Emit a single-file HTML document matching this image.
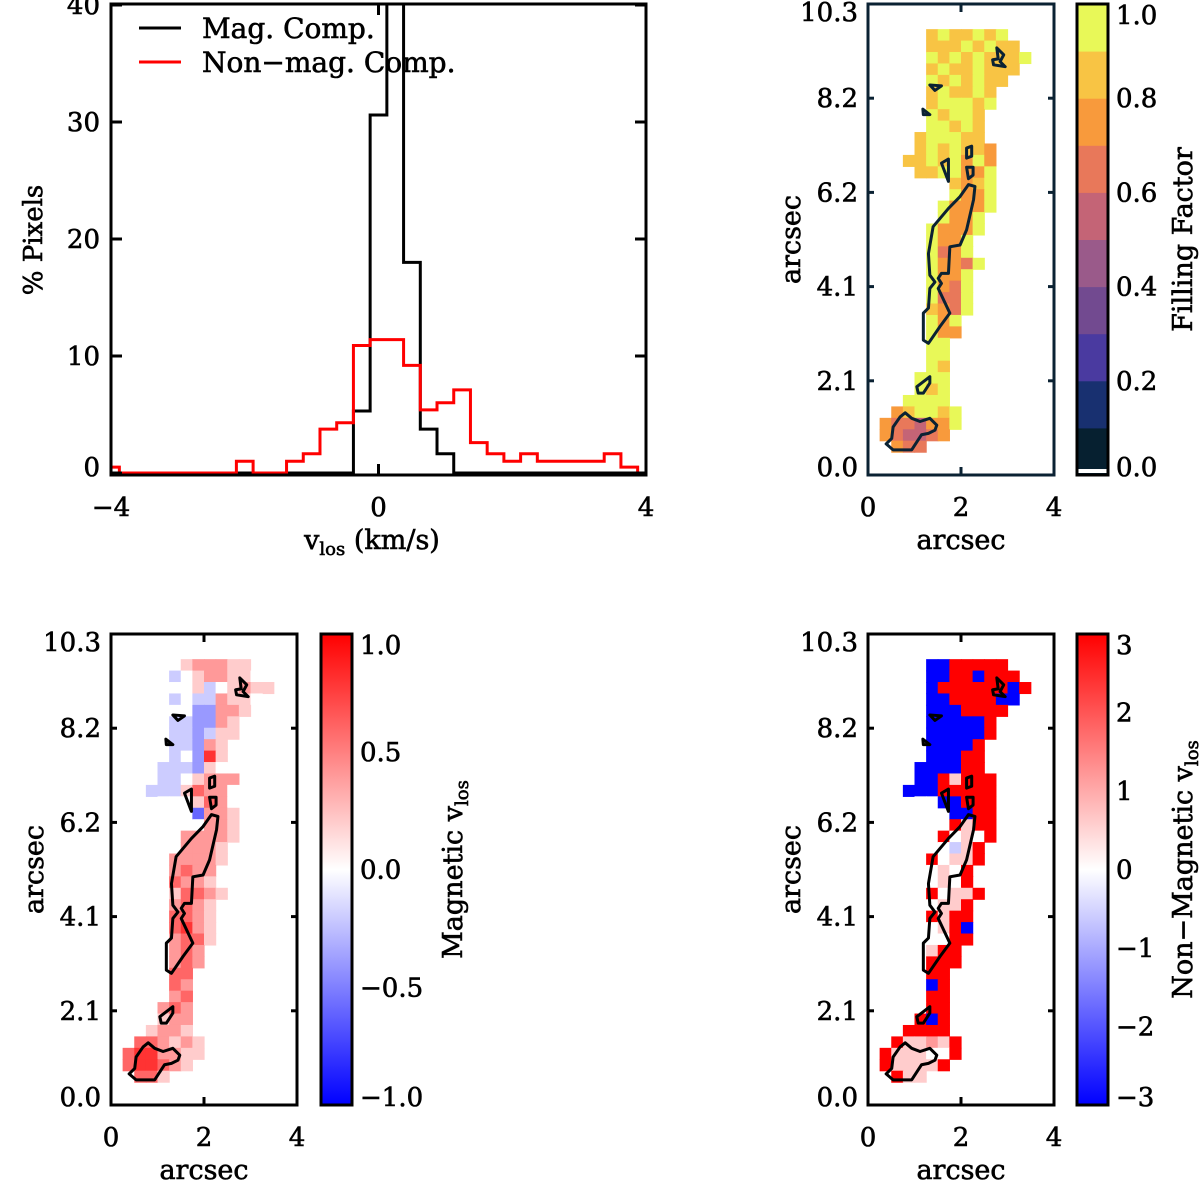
<!DOCTYPE html>
<html><head><meta charset="utf-8"><style>
html,body{margin:0;padding:0;background:#fff;}
svg{display:block;}
text{font-family:"DejaVu Serif","Liberation Serif",serif;fill:#000;stroke:#000;stroke-width:0.6px;}
</style></head><body>
<svg id="fig" width="1200" height="1183" viewBox="0 0 1200 1183" xmlns="http://www.w3.org/2000/svg">
<defs>
<clipPath id="histclip"><rect x="111" y="4" width="535" height="471"/></clipPath>
<linearGradient id="gradbwr" x1="0" y1="1" x2="0" y2="0">
<stop offset="0" stop-color="#0000ff"/><stop offset="0.5" stop-color="#ffffff"/><stop offset="1" stop-color="#ff0000"/>
</linearGradient>
</defs>
</svg>
<script>
// ---------- histogram data ----------
const binCenters = [-4,-3.75,-3.5,-3.25,-3,-2.75,-2.5,-2.25,-2,-1.75,-1.5,-1.25,-1,-0.75,-0.5,-0.25,0,0.25,0.5,0.75,1,1.25,1.5,1.75,2,2.25,2.5,2.75,3,3.25,3.5,3.75,4];
const magPct    = [0,0,0,0,0,0,0,0,0,0,0,0,0,0,0,5.3,30.6,41,18.0,3.75,1.65,0,0,0,0,0,0,0,0,0,0,0,0];
const nonmagPct = [0.5,0,0,0,0,0,0,0,1.0,0,0,1.0,1.65,3.75,4.3,10.9,11.4,11.4,9.2,5.4,6.0,7.1,2.6,1.65,1.0,1.65,1.0,1.0,1.0,1.0,1.65,0.5,0];
const histYTicks = [0,10,20,30,40];
const histXTicks = [-4,0,4];
const binWidth = 0.25;

// ---------- map data (cells of 0.25 arcsec; col 0 starts x=0.25, row 0 top at y=9.75) ----------
const ffRows = [
"....8988989..","....88898988.","....989898889","....89889888.","....9898988..","....898898...","....899989...","....98998....","....99898....","...899988....","...8989887...","..88989797...","...8899779...","......8789...","......9779...",".....97779...",".....9779....","....97779....","....9779.....","....9679.....","....97769....","....9779.....","....9769.....","....9669.....","....8769.....","....979......","....977......","....99.......","....99.......","....98.......","...999.......","...989.......","..9999.......",".789989......","7665779......","765567.......",".766........."];
const magRows = [
"....5677766..","....45677665.","....556456766","....45447665.","....5533776..","....443376...","....443466...","....44376....","....45396....","...444365....","...4456777...","..44468775...","...5556875...","......2776...","......5776...",".....77776...",".....7776....","....77776....","....7877.....","....8776.....","....68876....","....7876.....","....8876.....","....8976.....","....7886.....","....787......","....787......","....88.......","....87.......","....78.......","...787.......","...677.......","..6776.......",".887676......","8997766......","899876.......",".886........."];
const nonmagRows = [
"....00XXXXX..","....00XX0XXX.","....0XXXXXX0X","....00XXXX00.","....000XXXX..","....00000X...","....00000X...","....0000X....","....000XX....","...0000XX....","...00X6XXX...","..000XXXXX...","...5500XXX...","......00XX...","......X6XX...",".....X565X...",".....546X....","....X566X....","....565X.....","....565X.....","....X566X....","....566X.....","....X6XX.....","....56X0.....","....55XX.....","....6XX......","....XXX......","....XX.......","....0X.......","....XX.......","...5XX.......","...X0X.......","..XXXX.......",".X6676X......","X66655X......","X6666X.......",".X66........."];
const cellSize = 0.25, gridX0 = 0.25, gridYTop = 9.75;
const ffBands = ['#062030','#183070','#4a3aa0','#724a90','#9a5a8a','#c46476','#e8785a','#f89a3c','#f8c444','#e8f858'];

// contours (arcsec)
const contourStem = [[2.16,6.35],[2.30,6.31],[2.27,6.02],[2.12,5.36],[1.98,5.03],[1.76,4.99],[1.73,4.41],[1.58,4.41],[1.51,4.30],[1.58,4.19],[1.51,4.08],[1.76,3.54],[1.55,3.25],[1.30,2.88],[1.19,2.95],[1.19,3.54],[1.30,3.65],[1.33,4.08],[1.44,4.22],[1.33,4.37],[1.30,4.84],[1.40,5.43],[1.73,5.83],[1.98,6.09]];
const contourBlob = [[0.80,1.36],[0.94,1.24],[1.12,1.17],[1.33,1.24],[1.48,1.09],[1.44,0.98],[1.30,0.91],[1.15,0.88],[0.94,0.55],[0.54,0.55],[0.39,0.68],[0.51,0.80],[0.54,1.05],[0.69,1.27]];
const contourSmall1 = [[1.05,1.93],[1.33,2.15],[1.33,2.01],[1.19,1.79],[1.08,1.79]];
const contourHook = [[2.77,9.34],[2.92,9.19],[2.84,9.04],[2.95,8.93],[2.70,8.97],[2.68,9.08],[2.80,9.10]];
const contourTri = [[1.33,8.53],[1.58,8.51],[1.44,8.41]];
const contourDot = [[1.18,8.00],[1.33,7.88],[1.19,7.88]];
const contourWedge = [[1.58,6.82],[1.73,6.91],[1.73,6.42]];
const contourBox1 = [[2.12,7.15],[2.23,7.19],[2.23,6.97],[2.12,6.93]];
const contourBox2 = [[2.12,6.73],[2.26,6.73],[2.26,6.56],[2.16,6.48]];
const mapYTicks = [0,2.06,4.12,6.18,8.24,10.3];
const mapYTickLabels = ['0.0','2.1','4.1','6.2','8.2','10.3'];
const mapXTicks = [0,2,4];
const ffBarTicks = [0,0.2,0.4,0.6,0.8,1.0];
const magBarTicks = [-1,-0.5,0,0.5,1];
const magBarLabels = ['\u22121.0','\u22120.5','0.0','0.5','1.0'];
const nonmagBarTicks = [-3,-2,-1,0,1,2,3];
const nonmagBarLabels = ['\u22123','\u22122','\u22121','0','1','2','3'];

const NS = 'http://www.w3.org/2000/svg';
const svg = document.getElementById('fig');
function mk(tag, attrs, parent){
  const e = document.createElementNS(NS, tag);
  for (const k in attrs) e.setAttribute(k, attrs[k]);
  (parent||svg).appendChild(e);
  return e;
}
function txt(s, x, y, size, anchor, parent, rot){
  const t = mk('text', {x:x, y:y, 'font-size':size, 'text-anchor':anchor||'middle'}, parent);
  if (rot) t.setAttribute('transform', 'rotate(-90 '+x+' '+y+')');
  t.textContent = s;
  return t;
}

// ---------- histogram ----------
const hx = v => 111 + (v + 4) * 535 / 8;
const hy = v => 473 - v * 11.7;
const histG = mk('g', {});


function stepPath(vals){
  let d = '';
  binCenters.forEach((c, i) => {
    const x0 = hx(c - binWidth/2), x1 = hx(c + binWidth/2), y = hy(vals[i]);
    d += (i === 0 ? 'M' + x0 + ',' + y : 'L' + x0 + ',' + y) + 'L' + x1 + ',' + y;
  });
  return d;
}
const magLine = mk('path', {d: stepPath(magPct), fill:'none', stroke:'#000', 'stroke-width':3, 'clip-path':'url(#histclip)'}, histG);


const nonLine = mk('path', {d: stepPath(nonmagPct), fill:'none', stroke:'#ff0000', 'stroke-width':3, 'clip-path':'url(#histclip)'}, histG);


const hbox = mk('rect', {x:111, y:4, width:535, height:471, fill:'none', stroke:'#000', 'stroke-width':3}, histG);


histYTicks.forEach(v => {
  const y = hy(v);
  mk('line', {x1:111, x2:122, y1:y, y2:y, stroke:'#000', 'stroke-width':3}, histG);
  mk('line', {x1:635, x2:646, y1:y, y2:y, stroke:'#000', 'stroke-width':3}, histG);
  const t = txt(String(v), 100, Math.min(y + 9, 476), 26, 'end', histG);
  
  
});
histXTicks.forEach(v => {
  const x = hx(v);
  mk('line', {x1:x, x2:x, y1:475, y2:464, stroke:'#000', 'stroke-width':3}, histG);
  mk('line', {x1:x, x2:x, y1:4, y2:15, stroke:'#000', 'stroke-width':3}, histG);
  const t = txt(v < 0 ? '\u2212' + Math.abs(v) : String(v), x, 516, 26, 'middle', histG);
  
  
});
const hyt = txt('% Pixels', 42, 240, 26, 'middle', histG, true);


const hxt = mk('text', {x:372, y:549, 'font-size':27, 'text-anchor':'middle'}, histG);


hxt.innerHTML = 'v<tspan font-size="18" dy="6">los</tspan><tspan dy="-6"> (km/s)</tspan>';
const leg = mk('g', {}, histG);


const l1 = mk('line', {x1:139, x2:181, y1:28, y2:28, stroke:'#000', 'stroke-width':3}, leg);


txt('Mag. Comp.', 202, 38, 28, 'start', leg);
const l2 = mk('line', {x1:139, x2:181, y1:62, y2:62, stroke:'#ff0000', 'stroke-width':3}, leg);


txt('Non\u2212mag. Comp.', 202, 72, 28, 'start', leg);

// ---------- maps ----------
function bwr(v){ // v in [-1,1]
  v = Math.max(-1, Math.min(1, v));
  if (v < 0){ const c = Math.round(255 * (1 + v)); return 'rgb(' + c + ',' + c + ',255)'; }
  const c = Math.round(255 * (1 - v)); return 'rgb(255,' + c + ',' + c + ')';
}
function decode(ch){ return ch === 'X' ? 10 : parseInt(ch, 10); }
function drawMap(opts){
  const {x0, y0, w, h, rows, colorFn, name, cstroke, bar, barTicks, barLabels, barTitle, titleSub} = opts;
  const sx = v => x0 + v * w / 4;
  const sy = v => y0 + h - v * h / 10.3;
  const g = mk('g', {});
  
  
  rows.forEach((row, r) => {
    for (let c = 0; c < row.length; c++){
      const ch = row[c];
      if (ch === '.') continue;
      const xa = gridX0 + c * cellSize, ya = gridYTop - r * cellSize;
      const cell = mk('rect', {x: sx(xa), y: sy(ya), width: sx(xa + cellSize) - sx(xa) + 0.6, height: sy(ya - cellSize) - sy(ya) + 0.6, fill: colorFn(decode(ch))}, g);
      
      
    }
  });
  [contourStem, contourBlob, contourSmall1, contourHook, contourTri, contourDot, contourWedge, contourBox1, contourBox2].forEach(poly => {
    const pts = poly.map(p => sx(p[0]) + ',' + sy(p[1])).join(' ');
    const pg = mk('polygon', {points: pts, fill:'none', stroke: cstroke, 'stroke-width':3, 'stroke-linejoin':'round'}, g);
    
    
  });
  const box = mk('rect', {x:x0, y:y0, width:w, height:h, fill:'none', stroke:cstroke, 'stroke-width':3}, g);
  
  
  mapYTicks.forEach((v, i) => {
    const y = sy(v);
    mk('line', {x1:x0, x2:x0 + 6, y1:y, y2:y, stroke:cstroke, 'stroke-width':3}, g);
    mk('line', {x1:x0 + w - 6, x2:x0 + w, y1:y, y2:y, stroke:cstroke, 'stroke-width':3}, g);
    const t = txt(mapYTickLabels[i], x0 - 10, Math.max(Math.min(y + 9, y0 + h + 1), y0 + 17), 26, 'end', g);
    t.setAttribute('fill', cstroke);
    t.setAttribute('stroke', cstroke);
    
    
  });
  mapXTicks.forEach(v => {
    const x = sx(v);
    mk('line', {x1:x, x2:x, y1:y0 + h, y2:y0 + h - 8, stroke:cstroke, 'stroke-width':3}, g);
    mk('line', {x1:x, x2:x, y1:y0, y2:y0 + 8, stroke:cstroke, 'stroke-width':3}, g);
    const t = txt(String(v), x, y0 + h + 41, 26, 'middle', g);
    t.setAttribute('fill', cstroke);
    t.setAttribute('stroke', cstroke);
    
    
  });
  const xt = txt('arcsec', x0 + w / 2, y0 + h + 74, 27, 'middle', g);
  xt.setAttribute('fill', cstroke);
  xt.setAttribute('stroke', cstroke);
  
  
  const yt = txt('arcsec', x0 - 68, y0 + h / 2, 27, 'middle', g, true);
  yt.setAttribute('fill', cstroke);
  yt.setAttribute('stroke', cstroke);
  
  
  // colorbar
  const bx = bar.x, bw = bar.w;
  const cb = mk('g', {}, g);
  
  
  bar.draw(cb, bx, y0, bw, h);
  mk('rect', {x:bx, y:y0, width:bw, height:h, fill:'none', stroke:'#000', 'stroke-width':3}, cb);
  const bmin = barTicks[0], bmax = barTicks[barTicks.length - 1];
  barTicks.forEach((v, i) => {
    const y = y0 + h - (v - bmin) / (bmax - bmin) * h;
    const t = txt(barLabels[i], bx + bw + 8, Math.max(Math.min(y + 9, y0 + h + 1), y0 + 20), 26, 'start', cb);
    
    
  });
  const ct = mk('text', {x: bar.titleX, y: y0 + h / 2, 'font-size':27, 'text-anchor':'middle', transform:'rotate(-90 ' + bar.titleX + ' ' + (y0 + h / 2) + ')'}, cb);
  
  
  ct.innerHTML = titleSub ? barTitle + ' v<tspan font-size="18" dy="6">los</tspan>' : barTitle;
}

// top-right: filling factor
drawMap({x0:868, y0:4, w:186, h:471, rows: ffRows, name:'filling-factor-map', cstroke:'#0b2233',
  colorFn: d => ffBands[Math.min(9, d)],
  bar: {x:1077, w:31, titleX:1192, draw: (g, x, y, w, h) => {
    ffBands.forEach((c, i) => {
      const r = mk('rect', {x:x, y: y + h - (i + 1) * h / 10, width:w, height: h / 10 + 0.5, fill:c}, g);
      
      
    });
    mk('rect', {x:x, y:y + h - 6, width:w, height:4, fill:'#fff'}, g);
  }},
  barTicks: ffBarTicks, barLabels: ['0.0','0.2','0.4','0.6','0.8','1.0'], barTitle:'Filling Factor', titleSub:false});

// bottom-left: magnetic vlos
drawMap({x0:111, y0:634, w:186, h:471, rows: magRows, name:'magnetic-vlos-map', cstroke:'#000',
  colorFn: d => bwr((d - 5) / 5),
  bar: {x:321, w:31, titleX:462, draw: (g, x, y, w, h) => { mk('rect', {x:x, y:y, width:w, height:h, fill:'url(#gradbwr)'}, g); }},
  barTicks: magBarTicks, barLabels: magBarLabels, barTitle:'Magnetic', titleSub:true});

// bottom-right: non-magnetic vlos
drawMap({x0:868, y0:634, w:186, h:471, rows: nonmagRows, name:'nonmagnetic-vlos-map', cstroke:'#000',
  colorFn: d => bwr((d - 5) / 5),
  bar: {x:1077, w:31, titleX:1192, draw: (g, x, y, w, h) => { mk('rect', {x:x, y:y, width:w, height:h, fill:'url(#gradbwr)'}, g); }},
  barTicks: nonmagBarTicks, barLabels: nonmagBarLabels, barTitle:'Non\u2212Magnetic', titleSub:true});
</script>
</body></html>
